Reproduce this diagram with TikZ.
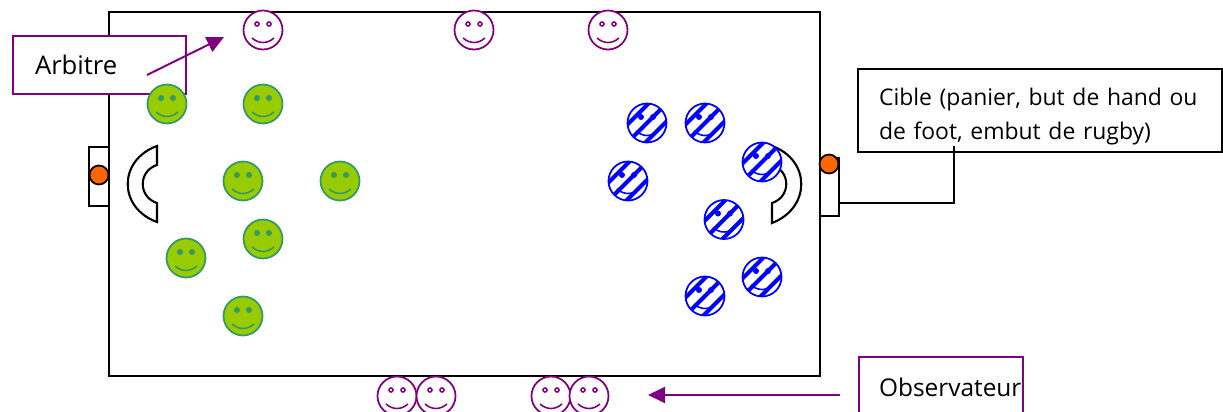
\documentclass[tikz,border=0pt]{standalone}
\usepackage{fontspec}
\setmainfont{Open Sans}
\usepackage{tikz}
\usetikzlibrary{arrows.meta}
\definecolor{arbitreC}{HTML}{800080}
\definecolor{greenC}{HTML}{99CC00}
\definecolor{tealC}{HTML}{339966}
\definecolor{blueC}{HTML}{0000FF}
\definecolor{ballC}{HTML}{FF6600}
\newcommand{\bouche}[1]{\draw[#1, line width=0.9pt] (-11,8) .. controls (-4,14) and (4,14) .. (11,8);}
\tikzset{
    face/.style={circle, draw=#1, line width=1pt, minimum size=0.78cm, inner sep=0mm},
    arbitre/.style={face=arbitreC, fill=white, path picture={
        \begin{scope}[shift={(path picture bounding box.center)}]
            \draw[arbitreC, line width=0.9pt] (-6,-6) circle (2) (6,-6) circle (2);
            \bouche{arbitreC}
        \end{scope}
    }},
    joueurA/.style={face=tealC, fill=greenC, path picture={
        \begin{scope}[shift={(path picture bounding box.center)}]
            \fill[tealC] (-6,-6) circle (3) (6,-6) circle (3);
            \bouche{tealC}
        \end{scope}
    }},
    joueurB/.style={face=blueC, fill=white, path picture={
        \begin{scope}[shift={(path picture bounding box.center)}]
            \foreach \o in {-36,-18,0,18,36}
                \draw[blueC, line width=2.3pt] (\o-25,25) -- (\o+25,-25);
            \fill[blueC] (-6,-6) circle (3) (6,-6) circle (3);
            \bouche{blueC}
        \end{scope}
    }},
    ball/.style={circle, draw=black, fill=ballC, line width=1pt, minimum size=0.38cm, inner sep=0mm},
    but/.style={draw=black, line width=1.2pt, fill=white},
    labelbox/.style={draw=#1, line width=1.2pt, fill=white, inner sep=0mm, align=left},
    lien/.style={arbitreC, line width=1.1pt, -{Triangle[length=3.4mm,width=3.2mm]}}
}

\begin{document}
\begin{tikzpicture}[x=0.02cm, y=-0.02cm]
    \useasboundingbox (0,0) rectangle (1223,412);
    \clip (0,0) rectangle (1223,412);

    \node[but, minimum width=14.22cm, minimum height=7.28cm] (terrain) at (464.5,194) {};
    \node[but, minimum width=0.4cm, minimum height=1.18cm] (butG) at (99,176.5) {};
    \node[but, minimum width=0.38cm, minimum height=1.16cm] (butD) at (829.5,187) {};
    \node[ball] (ballG) at (99,175) {};
    \node[ball] (ballD) at (829,164) {};

    \draw[but] (157,146) .. controls (118,160) and (118,208) .. (157,222) -- (157,203)
        .. controls (138,197) and (138,171) .. (157,165) -- cycle;
    \draw[but] (772,146) .. controls (811,160) and (811,208) .. (772,223) -- (772,203)
        .. controls (791,197) and (791,171) .. (772,165) -- cycle;

    \node[labelbox=arbitreC, minimum width=3.46cm, minimum height=1.16cm, text width=2.58cm, font=\fontsize{14.6}{18}\selectfont] (boxArbitre) at (99.5,65) {Arbitre};
    \node[labelbox=black, minimum width=7.28cm, minimum height=1.66cm, text width=6.44cm, font=\fontsize{13.05}{19.3}\selectfont] (boxCible) at (1040,110.5) {\rule{0pt}{0.6cm}Cible (panier, but de hand ou\\de foot, embut de rugby)};
    \node[labelbox=arbitreC, minimum width=3.28cm, minimum height=1.2cm, text width=2.48cm, font=\fontsize{13.9}{18}\selectfont] (boxObs) at (941,387) {\makebox[2.48cm][l]{Observateur}};

    \coordinate (arbitreFrom) at (147,75);
    \coordinate (arbitreTo) at (224,37);
    \coordinate (cibleFrom) at (954,146);
    \coordinate (cibleCoin) at (954,203);
    \coordinate (butDCoin) at (839,203);
    \coordinate (obsFrom) at (840,395);
    \coordinate (obsTo) at (648,395);

    \draw[lien] (arbitreFrom) -- (arbitreTo);
    \draw[lien] (obsFrom) -- (obsTo);
    \draw[line width=1.2pt] (cibleFrom) -- (cibleCoin) -- (butDCoin);

    \node[arbitre] (a1) at (263,30) {};
    \node[arbitre] (a2) at (474,30) {};
    \node[arbitre] (a3) at (608,30) {};
    \node[arbitre] (a4) at (397,396) {};
    \node[arbitre] (a5) at (436,396) {};
    \node[arbitre] (a6) at (551,396) {};
    \node[arbitre] (a7) at (589,396) {};

    \node[joueurA] (g1) at (167,104) {};
    \node[joueurA] (g2) at (263,104) {};
    \node[joueurA] (g3) at (243,181) {};
    \node[joueurA] (g4) at (340,181) {};
    \node[joueurA] (g5) at (263,239) {};
    \node[joueurA] (g6) at (186,258) {};
    \node[joueurA] (g7) at (243,316) {};

    \node[joueurB] (b1) at (647,123) {};
    \node[joueurB] (b2) at (705,123) {};
    \node[joueurB] (b3) at (762,162) {};
    \node[joueurB] (b4) at (628,181) {};
    \node[joueurB] (b5) at (724,219.5) {};
    \node[joueurB] (b6) at (762,277) {};
    \node[joueurB] (b7) at (705,296) {};
\end{tikzpicture}
\end{document}
